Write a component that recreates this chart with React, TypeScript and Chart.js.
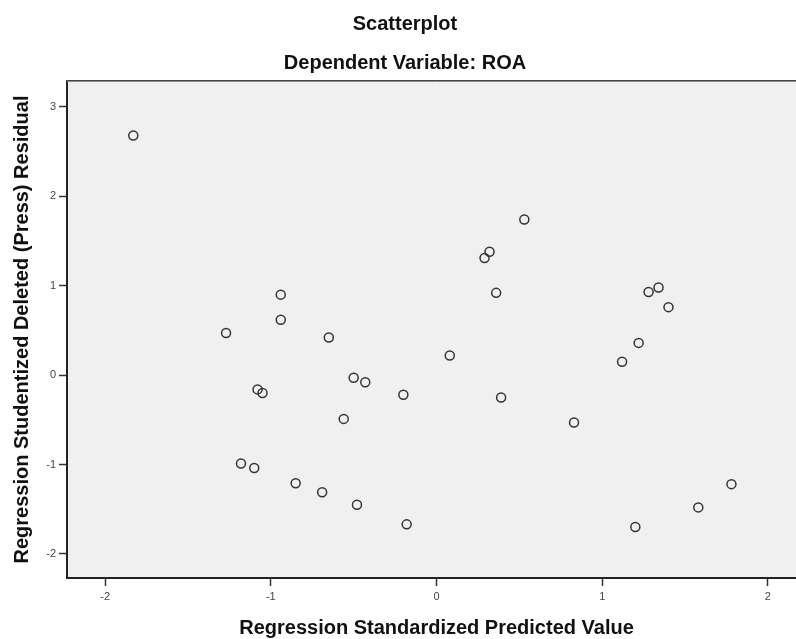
import React, { useEffect, useRef } from "react";
import { Chart, registerables } from "chart.js";

Chart.register(...registerables);

// ---- Data ----
const predictedValues = [
  -1.83, -1.27, -0.94, -0.94, -0.65, -1.08, -1.05, -1.18, -1.1, -0.85, -0.69,
  -0.48, -0.18, -0.56, -0.5, -0.43, -0.2, 0.08, 0.29, 0.32, 0.53, 0.36, 0.39,
  0.83, 1.12, 1.22, 1.28, 1.34, 1.4, 1.2, 1.58, 1.78,
];
const residualValues = [
  2.68, 0.47, 0.9, 0.62, 0.42, -0.16, -0.2, -0.99, -1.04, -1.21, -1.31, -1.45,
  -1.67, -0.49, -0.03, -0.08, -0.22, 0.22, 1.31, 1.38, 1.74, 0.92, -0.25,
  -0.53, 0.15, 0.36, 0.93, 0.98, 0.76, -1.7, -1.48, -1.22,
];
const xTickValues = [-2, -1, 0, 1, 2];
const yTickValues = [-2, -1, 0, 1, 2, 3];
const xRange = [-2.23, 2.23];
const yRange = [-2.27, 3.29];

const titleText = "Scatterplot";
const subtitleText = "Dependent Variable: ROA";
const xAxisTitle = "Regression Standardized Predicted Value";
const yAxisTitle = "Regression Studentized Deleted (Press) Residual";

const FONT = '"Liberation Sans", Arial, Helvetica, sans-serif';

const plotFrame = {
  id: "plotFrame",
  beforeDraw(chart: any) {
    const { ctx, chartArea } = chart;
    const { left, top, right, bottom } = chartArea;
    ctx.save();
    ctx.fillStyle = "#f0f0f0";
    ctx.fillRect(left, top, right - left, bottom - top);
    ctx.restore();
  },
  afterDraw(chart: any) {
    const { ctx, chartArea } = chart;
    const { left, top, right } = chartArea;
    ctx.save();
    ctx.lineWidth = 1;
    ctx.strokeStyle = "#444444";
    ctx.beginPath();
    ctx.moveTo(left - 1, top - 0.5);
    ctx.lineTo(right, top - 0.5);
    ctx.stroke();
    ctx.strokeStyle = "#8a8a8a";
    ctx.beginPath();
    ctx.moveTo(left, top + 0.5);
    ctx.lineTo(right, top + 0.5);
    ctx.stroke();
    ctx.restore();
  },
};

export default function App() {
  const canvasRef = useRef<HTMLCanvasElement | null>(null);

  useEffect(() => {
    const canvas = canvasRef.current;
    if (!canvas) return;
    const points = predictedValues.map((x, i) => ({ x, y: residualValues[i] }));

    const chart = new Chart(canvas, {
      type: "scatter",
      data: {
        datasets: [
          {
            data: points,
            pointStyle: "circle",
            pointRadius: 4.5,
            pointBorderWidth: 1.5,
            pointBorderColor: "#333333",
            pointBackgroundColor: "rgba(0,0,0,0)",
            showLine: false,
          },
        ],
      },
      options: {
        responsive: false,
        animation: false,
        devicePixelRatio: 1,
        layout: { padding: { left: 0, right: 2, top: 0, bottom: 0 } },
        plugins: {
          legend: { display: false },
          tooltip: { enabled: false },
          title: {
            display: true,
            text: titleText,
            color: "#111111",
            font: { family: FONT, size: 20, weight: "bold", lineHeight: 1.2 },
            padding: { top: 12, bottom: 0 },
          },
          subtitle: {
            display: true,
            text: subtitleText,
            color: "#111111",
            font: { family: FONT, size: 20, weight: "bold", lineHeight: 1.2 },
            padding: { top: 15, bottom: 6 },
          },
        },
        scales: {
          x: {
            type: "linear",
            position: "bottom",
            min: xRange[0],
            max: xRange[1],
            afterBuildTicks: (scale: any) => {
              scale.ticks = xTickValues.map((v) => ({ value: v }));
            },
            afterFit: (scale: any) => {
              scale.height = 61;
            },
            grid: {
              display: true,
              drawOnChartArea: false,
              drawTicks: true,
              tickLength: 8,
              tickColor: "#333333",
              tickWidth: 1.5,
            },
            border: { display: true, color: "#222222", width: 2 },
            ticks: {
              color: "#444444",
              padding: 4,
              font: { family: FONT, size: 11 },
              callback: (v: any) => String(v),
            },
            title: {
              display: true,
              text: xAxisTitle,
              color: "#111111",
              font: { family: FONT, size: 20, weight: "bold", lineHeight: 1.1 },
              padding: { top: 0, bottom: 0 },
            },
          },
          y: {
            type: "linear",
            position: "left",
            min: yRange[0],
            max: yRange[1],
            afterBuildTicks: (scale: any) => {
              scale.ticks = yTickValues.map((v) => ({ value: v }));
            },
            afterFit: (scale: any) => {
              scale.width = 67;
            },
            grid: {
              display: true,
              drawOnChartArea: false,
              drawTicks: true,
              tickLength: 8,
              tickColor: "#333333",
              tickWidth: 1.5,
            },
            border: { display: true, color: "#222222", width: 2 },
            ticks: {
              color: "#444444",
              padding: 3,
              font: { family: FONT, size: 11 },
              callback: (v: any) => String(v),
            },
            title: {
              display: true,
              text: yAxisTitle,
              color: "#111111",
              font: { family: FONT, size: 20, weight: "bold", lineHeight: 1.2 },
              padding: { top: 10, bottom: 0 },
            },
          },
        },
      },
      plugins: [plotFrame],
    } as any);

    return () => {
      chart.destroy();
    };
  }, []);

  return (
    <div
      style={{
        position: "fixed",
        left: 0,
        top: 0,
        width: 796,
        height: 639,
        overflow: "hidden",
        background: "#ffffff",
      }}
    >
      <canvas
        ref={canvasRef}
        width={812}
        height={639}
        style={{ display: "block", width: 812, height: 639 }}
      />
    </div>
  );
}
